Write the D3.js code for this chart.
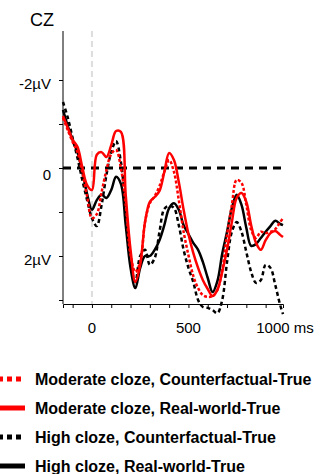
<!DOCTYPE html>
<html>
<head>
<meta charset="utf-8">
<script src="https://cdn.jsdelivr.net/npm/d3@7"></script>
<style>
  body { margin: 0; background: #fff; }
  svg text { font-family: "Liberation Sans", Arial, sans-serif; fill: #000; }
</style>
</head>
<body>
<svg id="chart" width="322" height="474"></svg>
<script>
// time points (ms)
var times = [-150,-125,-100,-75,-50,-25,0,25,50,75,100,125,150,175,200,225,250,275,300,325,350,375,400,425,450,475,500,525,550,575,600,625,650,675,700,725,750,775,800,825,850,875,900,925,950,975,990];

// amplitudes in µV (negative plotted up)
var modCounter = [-1.14,-0.86,-0.59,-0.36,0.09,0.64,1.14,1.05,0.55,0.05,-0.32,-0.41,0.00,0.84,1.98,2.36,2.14,1.23,0.80,0.64,0.41,0.09,-0.18,0.09,0.73,1.45,1.98,2.45,2.73,2.89,2.93,2.91,2.77,2.32,1.52,0.84,0.27,0.34,0.84,1.41,1.59,1.45,1.48,1.45,1.39,1.23,1.14];
var modReal = [-1.18,-0.91,-0.64,-0.48,-0.02,0.39,0.50,-0.30,-0.36,-0.25,-0.52,-0.84,-0.82,0.61,1.86,2.59,2.20,1.23,0.77,0.66,0.52,0.09,-0.34,-0.18,0.32,0.95,1.50,1.93,2.27,2.55,2.75,2.91,2.77,2.36,1.86,1.23,0.68,0.57,0.77,1.30,1.70,1.86,1.64,1.48,1.43,1.52,1.57];
var highCounter = [-1.50,-1.14,-0.68,-0.23,0.27,0.73,1.14,1.32,0.84,0.16,-0.36,-0.61,-0.14,0.95,2.14,2.59,2.00,1.86,2.20,2.05,1.45,0.93,0.86,0.91,1.30,1.86,2.27,2.59,3.00,3.16,3.18,3.23,3.30,3.00,2.14,1.45,1.23,1.45,1.91,2.36,2.61,2.55,2.20,2.27,2.66,3.11,3.32];
var highReal = [-1.32,-0.95,-0.64,-0.36,0.09,0.59,0.95,0.73,0.61,0.68,0.50,0.20,0.36,1.30,2.27,2.73,2.27,2.00,2.00,1.86,1.64,1.30,0.91,0.80,0.95,1.30,1.50,1.70,1.86,2.14,2.50,2.82,2.57,1.95,1.45,0.91,0.61,0.84,1.36,1.77,1.73,1.59,1.45,1.32,1.20,1.27,1.30];

var xTicks = [-100,0,100,200,300,400,500,600,700,800,900];
var xLabels = [0, 500, 1000];
var yTicks = [-2,-1,0,1,2,3];
var yLabels = [-2, 0, 2];
var legendNames = ["Moderate cloze, Counterfactual-True", "Moderate cloze, Real-world-True", "High cloze, Counterfactual-True", "High cloze, Real-world-True"];

var series = [
  {name: legendNames[2], values: highCounter, color: "#000", dash: "4,3", legendDash: "5,4"},
  {name: legendNames[3], values: highReal, color: "#000", dash: null, legendDash: null},
  {name: legendNames[0], values: modCounter, color: "#f00", dash: "3,2", legendDash: "5,4"},
  {name: legendNames[1], values: modReal, color: "#f00", dash: null, legendDash: null}
];

var svg = d3.select("#chart");

var x = d3.scaleLinear().domain([-150, 990]).range([63, 283]);
var y = d3.scaleLinear().domain([0, 1]).range([168, 212]);

// onset marker
svg.append("line")
  .attr("x1", x(0)).attr("x2", x(0))
  .attr("y1", 31).attr("y2", 304)
  .attr("stroke", "#ddd").attr("stroke-width", 2)
  .attr("stroke-dasharray", "6,4");

// y axis
var yAxis = d3.axisLeft(y).tickValues(yTicks).tickSize(4).tickSizeOuter(0).tickFormat("");
var yG = svg.append("g").attr("transform", "translate(63,0)").call(yAxis);
yG.select(".domain").attr("d", "M0,31V304");

svg.selectAll("text.ylab")
  .data(yLabels)
  .enter().append("text")
  .attr("class", "ylab")
  .attr("x", 51)
  .attr("y", d => y(d) + (d === 0 ? 12 : 9))
  .attr("text-anchor", "end")
  .style("font-size", "15px")
  .text(d => d === 0 ? "0" : (d < 0 ? "-" : "") + Math.abs(d) + "µV");

// x axis
var xAxis = d3.axisBottom(x).tickValues(xTicks).tickSize(4).tickSizeOuter(4).tickFormat("");
svg.append("g").attr("transform", "translate(0,304)").call(xAxis);

svg.selectAll("text.xlab")
  .data(xLabels)
  .enter().append("text")
  .attr("class", "xlab")
  .attr("x", d => d === 1000 ? 285 : x(d))
  .attr("y", 333)
  .attr("text-anchor", "middle")
  .style("font-size", "15px")
  .text(d => d === 1000 ? "1000 ms" : d);

// zero line
svg.append("line")
  .attr("x1", 63).attr("x2", 283)
  .attr("y1", y(0)).attr("y2", y(0))
  .attr("stroke", "#000").attr("stroke-width", 3)
  .attr("stroke-dasharray", "8,6");

// channel name
svg.append("text").attr("x", 30).attr("y", 26)
  .style("font-size", "18px").text("CZ");

// waveforms
var line = d3.line()
  .x((d, i) => x(times[i]))
  .y(d => y(d))
  .curve(d3.curveCatmullRom.alpha(0.5));

svg.selectAll("path.wave")
  .data(series)
  .enter().append("path")
  .attr("class", "wave")
  .attr("d", d => line(d.values))
  .attr("fill", "none")
  .attr("stroke", d => d.color)
  .attr("stroke-width", 2.5)
  .attr("stroke-dasharray", d => d.dash);

// legend
var legendOrder = [series[2], series[3], series[0], series[1]];
var legG = svg.selectAll("g.leg")
  .data(legendOrder)
  .enter().append("g")
  .attr("class", "leg")
  .attr("transform", (d, i) => "translate(0," + (379 + i * 29) + ")");

legG.append("line")
  .attr("x1", -2).attr("x2", 25)
  .attr("stroke", d => d.color)
  .attr("stroke-width", 5)
  .attr("stroke-dasharray", d => d.legendDash);

legG.append("text")
  .attr("x", 35).attr("y", 6)
  .style("font-size", "16px").style("font-weight", "bold")
  .text(d => d.name);
</script>
</body>
</html>
